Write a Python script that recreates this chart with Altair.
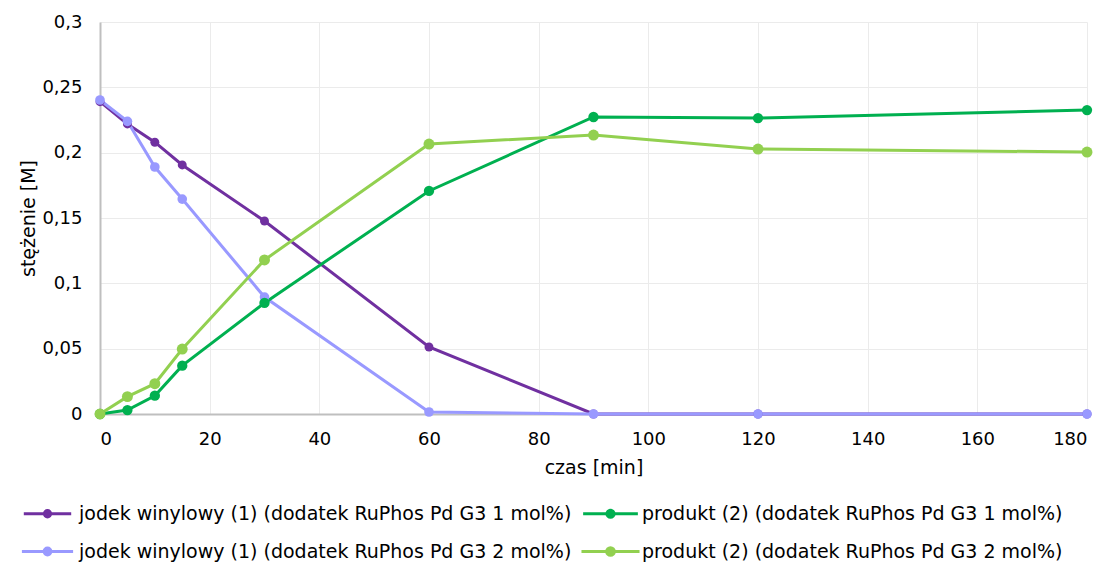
import altair as alt
import pandas as pd

czas = [0, 5, 10, 15, 30, 60, 90, 120, 180]

series_names = [
    "jodek winylowy (1) (dodatek RuPhos Pd G3 1 mol%)",
    "jodek winylowy (1) (dodatek RuPhos Pd G3 2 mol%)",
    "produkt (2) (dodatek RuPhos Pd G3 1 mol%)",
    "produkt (2) (dodatek RuPhos Pd G3 2 mol%)",
]
series_colors = ["#7030A0", "#9999FF", "#00B050", "#92D050"]
series_sizes = [80, 120, 80, 120]

jodek_1 = [0.239, 0.222, 0.208, 0.1906, 0.1477, 0.0513, 0.0, 0.0, 0.0]
jodek_2 = [0.2403, 0.224, 0.189, 0.1645, 0.0895, 0.0015, 0.0, 0.0, 0.0]
produkt_1 = [0.0, 0.003, 0.014, 0.037, 0.085, 0.1707, 0.2273, 0.2265, 0.2326]
produkt_2 = [0.0, 0.0133, 0.0232, 0.0497, 0.1179, 0.2066, 0.2135, 0.2028, 0.2005]

values = [jodek_1, jodek_2, produkt_1, produkt_2]
rows = []
for name, vals in zip(series_names, values):
    for t, v in zip(czas, vals):
        rows.append({"czas": t, "c": v, "seria": name})
df = pd.DataFrame(rows)

FONT = "DejaVu Sans"

x_enc = alt.X(
    "czas:Q",
    scale=alt.Scale(domain=[0, 180], nice=False),
    axis=alt.Axis(
        values=list(range(0, 181, 20)),
        title="czas [min]",
        labelExpr="replace(datum.label, '.', ',')",
        titlePadding=10,
        labelPadding=16,
    ),
)
y_enc = alt.Y(
    "c:Q",
    scale=alt.Scale(domain=[0, 0.3], nice=False),
    axis=alt.Axis(
        values=[0, 0.05, 0.1, 0.15, 0.2, 0.25, 0.3],
        title="stężenie [M]",
        labelExpr="replace(format(datum.value, '~g'), '.', ',')",
        labelPadding=18,
        titlePadding=3,
    ),
)

legend_path = (
    "M-5.3,0H5.3 "
    "M-0.7,0A0.7,0.7 0 1,0 0.7,0A0.7,0.7 0 1,0 -0.7,0 "
    "M-0.3,0A0.3,0.3 0 1,0 0.3,0A0.3,0.3 0 1,0 -0.3,0"
)

color_enc = alt.Color(
    "seria:N",
    scale=alt.Scale(domain=series_names, range=series_colors),
    legend=alt.Legend(
        title=None,
        orient="none",
        direction="vertical",
        legendX=-62,
        legendY=482,
        columns=2,
        symbolType=legend_path,
        symbolSize=400,
        symbolStrokeWidth=3,
        labelOffset=22,
        labelFontSize=19,
        labelFont=FONT,
        labelColor="#000000",
        labelLimit=700,
        columnPadding=3,
        rowPadding=17,
    ),
)

base = alt.Chart(df).encode(x=x_enc, y=y_enc, color=color_enc)

lines = base.mark_line(strokeWidth=3)
points = base.mark_point(filled=True, opacity=1).encode(
    size=alt.Size(
        "seria:N",
        scale=alt.Scale(domain=series_names, range=series_sizes),
        legend=None,
    )
)

chart = (
    alt.layer(lines, points)
    .properties(
        width=987,
        height=392,
        autosize=alt.AutoSizeParams(type="none"),
        padding={"left": 92, "top": 14, "right": 9, "bottom": 148},
    )
    .configure_view(stroke=None)
    .configure_axis(
        labelFont=FONT,
        titleFont=FONT,
        labelFontSize=18,
        titleFontSize=19,
        titleFontWeight="normal",
        labelColor="#000000",
        titleColor="#000000",
        domainColor="#BFBFBF",
        domainWidth=2,
        gridColor="#EBEBEB",
        gridWidth=1,
        ticks=False,
    )
)

chart.save("out.html", embed_options={"renderer": "svg", "actions": False})
